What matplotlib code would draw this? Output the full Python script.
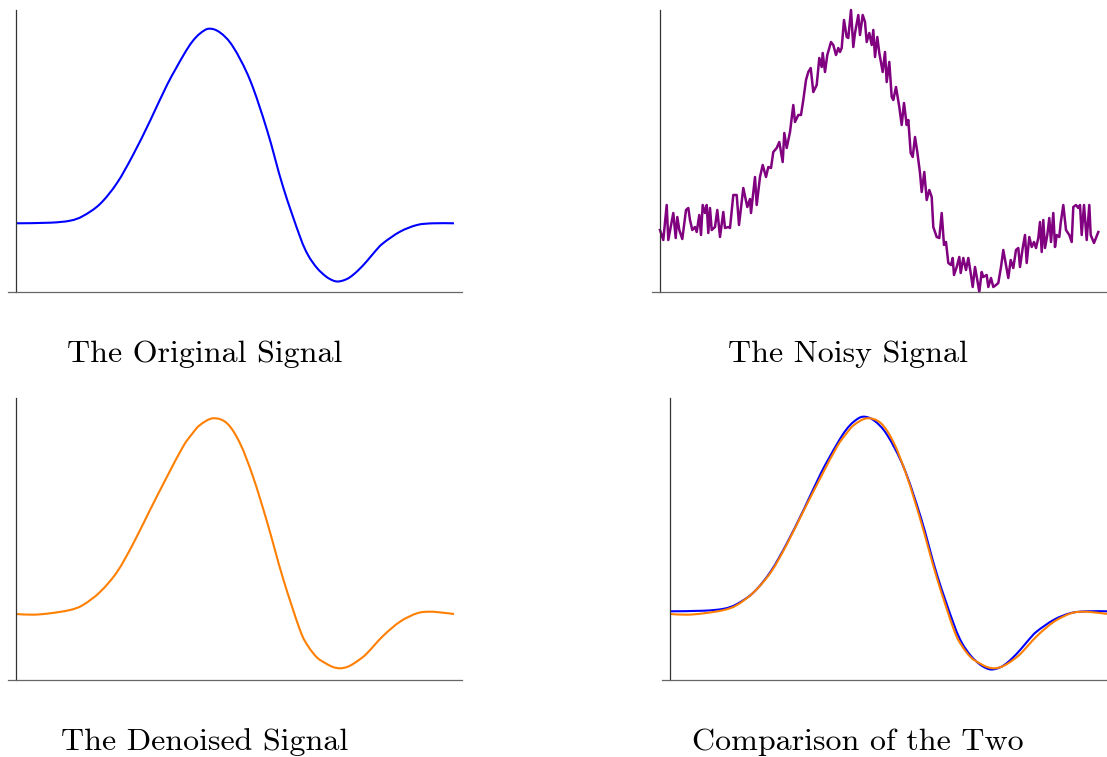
import numpy as np
import matplotlib
matplotlib.use('Agg')
import matplotlib.pyplot as plt
from matplotlib.path import Path
from matplotlib.patches import PathPatch


## Signal values (x: samples, y: amplitude)
orig_x = [0, 34, 54, 67, 84, 101, 117, 134, 151, 167, 176, 184, 193, 204, 217,
          234, 251, 267, 284, 292, 301, 310, 317, 322, 328, 334, 342, 351, 359,
          367, 384, 401, 417, 438]
orig_y = [68.7, 69.3, 71.3, 76, 88, 109, 137, 171, 207, 236, 250, 258.5,
          263.3, 259.5, 245.3, 212, 162, 105.3, 55.3, 37, 24, 15.5, 11.5, 10.5,
          11.8, 14.8, 21.5, 31, 40.5, 48.7, 60.3, 67, 68.7, 68.7]

den_x = [0, 17, 34, 54, 67, 84, 101, 117, 134, 151, 167, 176, 184, 197, 211,
         224, 237, 251, 267, 284, 292, 301, 310, 317, 324, 331, 337, 344, 351,
         367, 384, 401, 414, 427, 438]
den_y = [66, 65.3, 66.7, 70, 75, 88, 108, 136, 170, 203.3, 233.3, 246, 255,
         261.7, 256.7, 236.7, 203.3, 158.3, 101.7, 50, 34, 22.5, 16.5, 13, 11.7,
         13, 16, 20.8, 26.7, 44, 58.3, 66.7, 68.3, 67.3, 66]

noisy_x = [0, 3.3, 6.7, 8.3, 13.3, 15.7, 17.3, 19.3, 22.3, 26, 28.3, 30, 32.3,
           35, 36.7, 39.3, 41, 42.7, 45, 46.7, 48.3, 50, 51.7, 55, 57.3, 60,
           63.3, 65, 68.3, 70, 73.3, 76.7, 79, 83.3, 87.3, 90, 91, 95, 96.7, 100,
           102.7, 106, 108.3, 111, 113.3, 116.7, 119.3, 122.7, 124.3, 126.7, 130,
           133.3, 135, 138.3, 141, 143.3, 146, 148.3, 150.7, 153.3, 156.7, 159.3,
           161.7, 162.7, 165, 167.3, 171, 173.3, 176, 178.3, 180, 181.7, 184,
           186.7, 188.3, 191, 193.3, 195, 198.3, 200, 202.7, 205, 206.7, 209.3,
           211.7, 213.3, 215, 217.3, 219.3, 222.7, 225, 226.7, 229.3, 231.7,
           233.3, 236, 239.3, 241.7, 244, 246.7, 248.3, 250.7, 252.7, 255, 257.3,
           260, 261.7, 264.3, 266.7, 269.3, 271.7, 273.3, 276.7, 279.3, 281.7,
           284, 286, 288.3, 291, 292.7, 294, 296.7, 299.3, 300.7, 303.3, 306,
           308.3, 311, 312.7, 315, 317.3, 319.3, 321.7, 323.3, 326.7, 328.3, 331,
           333.3, 336, 338.3, 341, 343.3, 346, 348.3, 350.7, 353.3, 356, 358.3,
           360, 362.7, 365, 366.7, 369.3, 371.7, 374, 376, 378.3, 380, 381.7,
           383.3, 385, 387.3, 389.3, 391, 393.3, 395, 396.7, 399.3, 400.7, 403.3,
           406, 409.3, 411.7, 413.3, 416, 418.3, 420, 421.7, 424, 426.7, 429.3,
           430.7, 434, 438.3]
noisy_y = [62, 52, 87, 52, 79, 54, 75, 62, 53, 82, 84, 72, 62, 65, 60, 77, 57,
           87, 79, 87, 59, 84, 62, 65, 82, 55, 80, 64, 65, 64, 97, 97, 67, 104,
           85, 93, 79, 115, 87, 115, 127, 115, 125, 124, 140, 144, 150, 130, 159,
           144, 160, 187, 170, 177, 177, 192, 212, 220, 224, 200, 207, 234, 225,
           239, 220, 237, 250, 247, 237, 244, 240, 244, 272, 255, 254, 282, 245,
           259, 277, 257, 277, 270, 250, 259, 247, 262, 235, 255, 239, 220, 240,
           210, 230, 195, 192, 205, 185, 167, 189, 167, 172, 139, 135, 155, 140,
           119, 100, 120, 92, 102, 95, 65, 55, 54, 79, 47, 50, 29, 27, 34, 17, 25,
           35, 19, 34, 22, 34, 17, 5, 25, 12, 0, 20, 15, 17, 5, 14, 5, 7, 9, 25,
           42, 27, 14, 32, 24, 42, 44, 25, 44, 57, 29, 55, 45, 50, 44, 54, 70,
           40, 72, 44, 57, 74, 50, 79, 45, 57, 55, 69, 87, 62, 57, 50, 85, 87,
           84, 87, 57, 87, 52, 87, 57, 49, 60]

titles = ['The Original Signal', 'The Noisy Signal',
          'The Denoised Signal', 'Comparison of the Two']

W, H = 1107, 757
fig = plt.figure(figsize=(W / 100, H / 100), dpi=100)


def make_axes(left, right, base, xmin):
    # pixel box -> figure fraction
    ax = fig.add_axes([left / W, (H - base) / H, (right - left) / W, 282 / H])
    ax.set_xlim(xmin, xmin + (right - left))
    ax.set_ylim(0, 282)
    for s in ['top', 'right']:
        ax.spines[s].set_visible(False)
    ax.spines['left'].set_position(('data', 0))
    ax.spines['left'].set_color('#333333')
    ax.spines['bottom'].set_color('#666666')
    ax.spines['left'].set_linewidth(0.9)
    ax.spines['bottom'].set_linewidth(0.9)
    ax.set_xticks([])
    ax.set_yticks([])
    ax.patch.set_alpha(0)
    return ax


def smooth_line(ax, x, y, color):
    # Catmull-Rom through the read points, drawn as bezier path
    x = np.asarray(x, float)
    y = np.asarray(y, float)
    pts = np.column_stack([x, y])
    verts = [pts[0]]
    codes = [Path.MOVETO]
    n = len(pts)
    for i in range(n - 1):
        p0 = pts[max(i - 1, 0)]
        p1 = pts[i]
        p2 = pts[i + 1]
        p3 = pts[min(i + 2, n - 1)]
        c1 = p1 + (p2 - p0) / 6.0
        c2 = p2 - (p3 - p1) / 6.0
        verts += [c1, c2, p2]
        codes += [Path.CURVE4] * 3
    patch = PathPatch(Path(verts, codes), facecolor='none', edgecolor=color,
                      lw=1.5, clip_on=False)
    ax.add_patch(patch)


ax1 = make_axes(8, 462, 292, -8)
smooth_line(ax1, orig_x, orig_y, '#0000ff')

ax2 = make_axes(652, 1107, 292, -8)
ax2.plot(noisy_x, noisy_y, color='#800080', lw=1.8, clip_on=False)

ax3 = make_axes(8, 462, 680, -8)
smooth_line(ax3, den_x, den_y, '#ff7f00')

ax4 = make_axes(662, 1107, 680, -8)
smooth_line(ax4, orig_x, orig_y, '#0000ff')
smooth_line(ax4, den_x, den_y, '#ff7f00')

title_pos = [(205, 354), (848, 354), (205, 742), (858, 742)]
for t, (px, py) in zip(titles, title_pos):
    fig.text(px / W, 1 - py / H, t, family='cmr10', fontsize=23,
             ha='center', va='center')

fig.savefig('out.png', dpi=100)
